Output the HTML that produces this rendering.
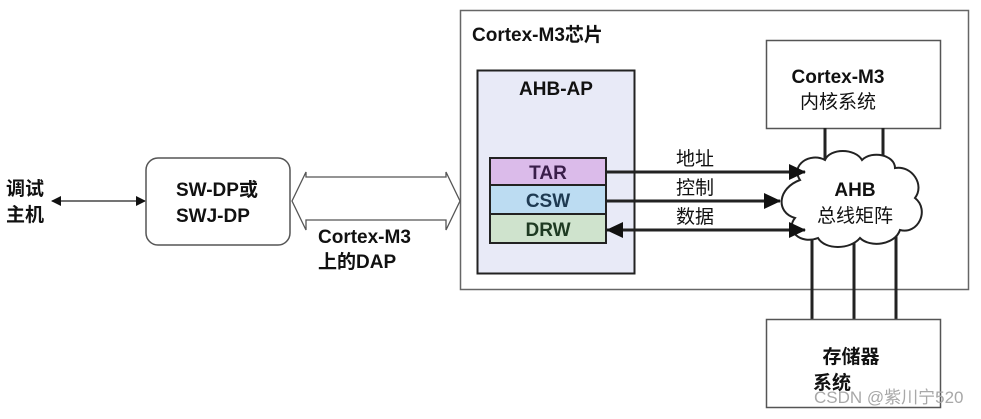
<!DOCTYPE html>
<html><head><meta charset="utf-8"><style>
body{margin:0;background:#fff}
text{font-family:"Liberation Sans","Noto Sans CJK SC",sans-serif;font-weight:bold;fill:#111;font-size:19px}
.n{font-weight:normal}
</style></head><body>
<svg width="981" height="414" viewBox="0 0 981 414" xmlns="http://www.w3.org/2000/svg">
<defs>
<marker id="ahs" markerWidth="10" markerHeight="10" refX="9" refY="5" orient="auto-start-reverse" markerUnits="userSpaceOnUse"><path d="M0,0 L10,5 L0,10 z" fill="#111"/></marker>
<marker id="ab" markerWidth="18" markerHeight="16" refX="16" refY="8" orient="auto-start-reverse" markerUnits="userSpaceOnUse"><path d="M0,0 L17,8 L0,16 z" fill="#111"/></marker>
</defs>
<rect x="460.5" y="10.5" width="508" height="279" fill="#fff" stroke="#666" stroke-width="1.5"/>
<text x="472" y="41">Cortex-M3芯片</text>
<rect x="477.5" y="70.5" width="157" height="203" fill="#e8eaf7" stroke="#222" stroke-width="2"/>
<text x="556" y="95" text-anchor="middle">AHB-AP</text>
<rect x="490" y="158" width="116" height="27" fill="#dbbbea" stroke="#222" stroke-width="2"/>
<rect x="490" y="185" width="116" height="29" fill="#bcdcf2" stroke="#222" stroke-width="2"/>
<rect x="490" y="214" width="116" height="29" fill="#cfe3cd" stroke="#222" stroke-width="2"/>
<text x="548" y="179" text-anchor="middle" style="fill:#3a1e4a">TAR</text>
<text x="548" y="207" text-anchor="middle" style="fill:#1e3a52">CSW</text>
<text x="548" y="236" text-anchor="middle" style="fill:#1e3a22">DRW</text>
<rect x="766.5" y="40.5" width="174" height="88" fill="#fff" stroke="#555" stroke-width="1.5"/>
<text x="838" y="83" text-anchor="middle">Cortex-M3</text>
<text x="838" y="108" text-anchor="middle" class="n">内核系统</text>
<line x1="825" y1="128" x2="825" y2="165" stroke="#222" stroke-width="3"/>
<line x1="883" y1="128" x2="883" y2="165" stroke="#222" stroke-width="3"/>
<line x1="812" y1="235" x2="812" y2="320" stroke="#222" stroke-width="3"/>
<line x1="854" y1="235" x2="854" y2="320" stroke="#222" stroke-width="3"/>
<line x1="896" y1="235" x2="896" y2="320" stroke="#222" stroke-width="3"/>
<path d="M800,180 C790,165 810,152 825,160 C830,148 855,148 862,160 C872,150 895,155 895,168 C912,165 925,185 915,198 C930,210 918,235 900,230 C895,245 870,248 860,238 C850,250 825,250 818,238 C800,245 785,230 795,218 C775,212 778,188 800,180 Z" fill="#fff" stroke="#222" stroke-width="2"/>
<text x="855" y="196" text-anchor="middle">AHB</text>
<text x="855" y="222" text-anchor="middle" class="n">总线矩阵</text>
<line x1="607" y1="172" x2="805" y2="172" stroke="#222" stroke-width="3" marker-end="url(#ab)"/>
<line x1="607" y1="201" x2="780" y2="201" stroke="#222" stroke-width="3" marker-end="url(#ab)"/>
<line x1="607" y1="230" x2="805" y2="230" stroke="#222" stroke-width="3" marker-start="url(#ab)" marker-end="url(#ab)"/>
<text x="695" y="165" text-anchor="middle" class="n">地址</text>
<text x="695" y="194" text-anchor="middle" class="n">控制</text>
<text x="695" y="223" text-anchor="middle" class="n">数据</text>
<rect x="766.5" y="319.5" width="174" height="88" fill="#fff" stroke="#555" stroke-width="1.5"/>
<text x="851" y="363" text-anchor="middle">存储器</text>
<text x="832" y="389" text-anchor="middle">系统</text>
<text x="814" y="403" class="n" style="fill:#a8a8a8;font-size:17px">CSDN @紫川宁520</text>
<text x="6" y="195">调试</text>
<text x="6" y="221">主机</text>
<line x1="52" y1="201" x2="145" y2="201" stroke="#222" stroke-width="1.3" marker-start="url(#ahs)" marker-end="url(#ahs)"/>
<rect x="146" y="158" width="144" height="87" rx="12" fill="#fff" stroke="#555" stroke-width="1.5"/>
<text x="176" y="196">SW-DP或</text>
<text x="176" y="222">SWJ-DP</text>
<path d="M292,201 L306,172 L306,177 L446,177 L446,172 L460,201 L446,230 L446,220 L306,220 L306,230 Z" fill="#fff" stroke="#555" stroke-width="1.3"/>
<text x="318" y="243">Cortex-M3</text>
<text x="318" y="268">上的DAP</text>
</svg>
</body></html>
